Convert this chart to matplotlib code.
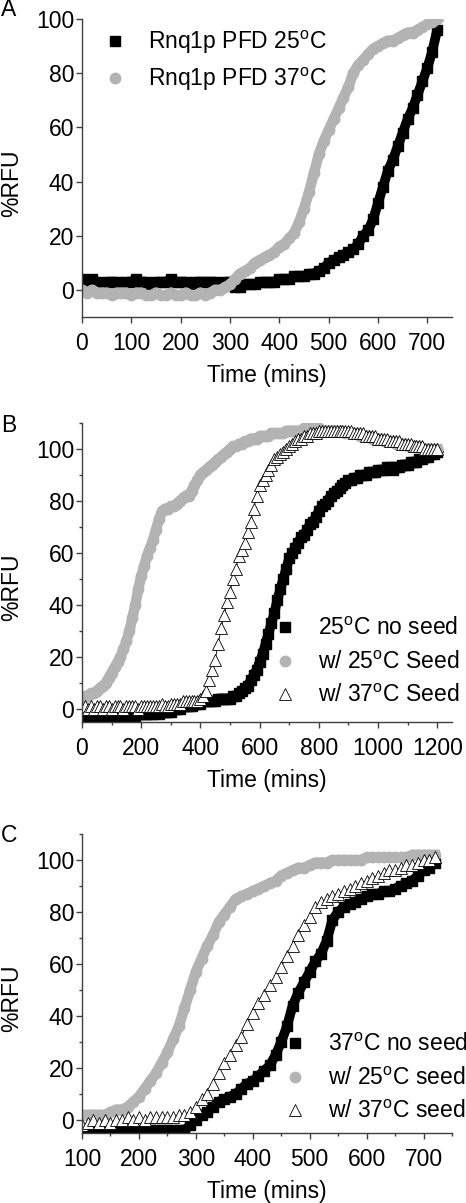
import numpy as np
import matplotlib
matplotlib.use("Agg")
import matplotlib.pyplot as plt
from matplotlib.ticker import MultipleLocator

plt.rcParams['font.family'] = ['Liberation Sans', 'DejaVu Sans']
plt.rcParams['mathtext.fontset'] = 'custom'
plt.rcParams['mathtext.rm'] = 'Liberation Sans'
plt.rcParams['font.size'] = 16.5

# ---- panel A: Rnq1p PFD at 25 and 37 C ----
time_a = np.arange(0, 730, 10)
a_25 = [4, 3, 4, 3, 2, 3, 3, 3, 2, 3, 3, 4, 3, 3, 2, 3, 3, 3, 4, 3, 3, 3, 2, 3, 3, 3, 3, 3, 2, 3, 3,
        1, 1, 2, 2, 2, 3, 3, 3, 3, 4,
        4, 4, 5, 5, 5, 6, 6, 7, 8, 10,
        11, 12, 13, 14, 15, 17, 20, 22, 26, 32,
        38, 44, 48, 53, 58, 63, 67, 72, 77, 82, 88, 96]
a_37 = [0, -1, 0, -1, -1, -1, -2, -1, -1, -1, -2, -1, -1, -2, -2, -1, -2, -2, -1, -2, -2, -1, -2, -2, -1, -2,
        -1, 0, 0, 1, 2,
        4, 6, 7, 8, 10, 11, 12, 13, 14, 16,
        17, 19, 21, 25, 30, 36, 43, 50, 55, 59,
        63, 67, 71, 75, 80, 83, 85, 87, 89, 90,
        91, 92, 92, 93, 94, 95, 95, 96, 97, 98, 99, 100]

# ---- panel B: 25 C, seeded ----
time_b = np.arange(0, 1210, 10)
b_noseed = [-4, -4, -3, -4, -4, -3, -3, -4, -3, -3, -3, -3, -3, -3, -2, -3, -3, -2, -3, -2, -2, -2, -2, -2,
            -2, -1, -2, -1, -1, -1, -1, 0, 0, 0, 1, 1,
            1, 1, 2, 2, 2, 3, 3, 3, 3, 3, 4, 4, 4, 4, 4,
            5, 5, 6, 7, 8, 9, 11, 13, 15, 18,
            21, 25, 29, 33, 37, 42, 46, 50, 54, 58,
            60, 62, 64, 66, 67, 69, 71, 72, 74, 76,
            78, 79, 80, 82, 83, 84, 85, 86, 87, 88,
            88, 89, 89, 90, 90, 90, 91, 91, 91, 92,
            92, 92, 93, 93, 92, 93, 93, 94, 94, 94,
            95, 95, 95, 96, 96, 97, 97, 98, 98, 99]
b_seed25 = [4, 5, 5, 6, 6, 7, 8, 9, 10, 12, 14,
            16, 18, 20, 23, 26, 30, 35, 40, 46, 51,
            55, 59, 62, 65, 69, 73, 76, 77, 77, 78,
            78, 79, 80, 81, 82, 82, 84, 86, 88, 90,
            91, 92, 93, 94, 95, 96, 97, 98, 99, 100,
            101, 101, 102, 102, 103, 103, 104, 104, 104, 105,
            105, 105, 105, 106, 106, 106, 106, 106, 107, 107,
            107, 107, 107, 107, 108, 108, 108, 108, 108, 108,
            107, 107, 107, 107, 107, 107, 107, 107, 106, 106,
            106, 106, 106, 105, 105, 105, 105, 104, 104, 104,
            104, 103, 103, 103, 103, 102, 102, 102, 102, 101,
            101, 101, 101, 101, 100, 100, 100, 100, 100, 100]
b_seed37 = [0, 1, 0, 1, 0, 1, 1, 0, 1, 1, 0, 1, 1, 1, 0, 1, 1, 1, 1, 0, 1, 1, 1, 1, 1, 1, 1, 2, 1, 1,
            2, 2, 2, 2, 3, 3,
            3, 3, 3, 3, 4, 5, 7, 11, 15, 19, 25, 31, 36, 41, 45,
            50, 54, 59, 61, 64, 68, 72, 77, 82, 86,
            88, 90, 92, 94, 96, 97, 98, 99, 100, 101,
            102, 103, 104, 104, 105, 105, 106, 106, 106, 107,
            107, 107, 107, 107, 107, 107, 107, 107, 107, 107,
            107, 106, 106, 106, 106, 105, 105, 105, 105, 104,
            104, 104, 104, 103, 103, 103, 103, 102, 102, 102,
            102, 101, 101, 101, 101, 100, 100, 100, 100, 100]

# ---- panel C: 37 C, seeded ----
time_c = np.arange(100, 730, 10)
c_noseed = [-4, -4, -4, -4, -4, -4, -3, -4, -4, -4, -4, -4, -4, -4, -4, -4,
            -4, -4, -4, -2, 0,
            2, 3, 5, 7, 8, 9, 10, 12, 14, 15,
            17, 19, 21, 25, 30, 36, 44, 49, 53, 57,
            61, 64, 69, 77, 80, 82, 83, 84, 85, 86,
            87, 87, 88, 88, 89, 90, 91, 92, 94, 96, 97, 99]
c_seed25 = [2, 2, 2, 2, 2, 3, 4, 4, 5, 7, 9,
            12, 15, 18, 22, 26, 31, 36, 43, 50, 57,
            62, 67, 71, 76, 79, 82, 85, 86, 87, 88,
            89, 90, 91, 92, 94, 95, 96, 97, 97, 98,
            99, 99, 99, 100, 100, 100, 100, 100, 100, 101,
            101, 101, 101, 101, 101, 101, 101, 102, 102, 102, 102, 102]
c_seed37 = [-2, -1, 0, -1, 0, -1, 0, 0, 1, 0, 1, 0, 1, 1, 1, 1,
            1, 2, 2, 3, 5,
            8, 10, 14, 18, 22, 25, 29, 32, 37, 41,
            45, 48, 52, 55, 59, 63, 67, 71, 75, 78,
            82, 84, 85, 86, 87, 88, 89, 90, 91, 92,
            93, 94, 95, 96, 96, 97, 98, 98, 99, 100, 100, 101]

GREY = '#b3b3b3'
SPINE = '#404040'
deg = r'$^{\rm o}$'

W, H = 466, 1203
fig = plt.figure(figsize=(W / 100, H / 100), dpi=100)


def px_axes(left, top, right, bottom):
    return fig.add_axes([left / W, 1 - bottom / H, (right - left) / W, (bottom - top) / H])


def style(ax, minor_x=None, minor_y=None):
    for s in ['top', 'right']:
        ax.spines[s].set_visible(False)
    for s in ['left', 'bottom']:
        ax.spines[s].set_color(SPINE)
        ax.spines[s].set_linewidth(1.0)
    ax.tick_params(which='major', direction='out', length=4, width=1, color=SPINE, pad=6.5)
    ax.tick_params(axis='y', which='major', pad=1.5)
    ax.tick_params(which='minor', direction='out', length=2.5, width=1, color=SPINE)
    if minor_x:
        ax.xaxis.set_minor_locator(MultipleLocator(minor_x))
    if minor_y:
        ax.yaxis.set_minor_locator(MultipleLocator(minor_y))
    ax.set_xlabel('Time (mins)', labelpad=7)
    ax.set_ylabel('%RFU')
    ax.yaxis.set_label_coords(-0.16, 0.45)


# points joined by a band of the same colour, so the dense runs read as one trace
sq = dict(marker='s', ms=7, color='black', ls='-', lw=7)
ci = dict(marker='o', ms=7.5, color=GREY, ls='-', lw=7.5)
tri = dict(marker='^', ms=8, mfc='white', mec='black', mew=0.6, color='black', ls='-', lw=0.6)


def add_legend(ax, anchor):
    leg = ax.legend(loc='upper left', bbox_to_anchor=anchor, frameon=False, borderpad=0,
                    borderaxespad=0, handlelength=1.0, handletextpad=0.94, labelspacing=0.45,
                    numpoints=1, fontsize=16.5)
    for h in leg.legend_handles:
        h.set_linestyle('none')


# A
axA = px_axes(82, 19, 452, 317)
axA.plot(time_a, a_25, label='Rnq1p PFD 25' + deg + 'C', **sq)
axA.plot(time_a, a_37, label='Rnq1p PFD 37' + deg + 'C', **ci)
axA.set_xlim(0, 750)
axA.set_ylim(-10, 100)
axA.xaxis.set_major_locator(MultipleLocator(100))
axA.yaxis.set_major_locator(MultipleLocator(20))
style(axA)
add_legend(axA, (0.058, 0.968))

# B
axB = px_axes(82, 423, 452, 722)
axB.plot(time_b, b_noseed, label='25' + deg + 'C no seed', **sq)
axB.plot(time_b, b_seed25, label='w/ 25' + deg + 'C Seed', **ci)
axB.plot(time_b, b_seed37, label='w/ 37' + deg + 'C Seed', **tri)
axB.set_xlim(0, 1250)
axB.set_ylim(-5, 110)
axB.xaxis.set_major_locator(MultipleLocator(200))
axB.yaxis.set_major_locator(MultipleLocator(20))
style(axB, 100, 10)
add_legend(axB, (0.5176, 0.35))

# C
axC = px_axes(82, 834, 452, 1133)
axC.plot(time_c, c_noseed, label='37' + deg + 'C no seed', **sq)
axC.plot(time_c, c_seed25, label='w/ 25' + deg + 'C seed', **ci)
axC.plot(time_c, c_seed37, label='w/ 37' + deg + 'C seed', **tri)
axC.set_xlim(100, 750)
axC.set_ylim(-5, 110)
axC.xaxis.set_major_locator(MultipleLocator(100))
axC.yaxis.set_major_locator(MultipleLocator(20))
style(axC, 50, 10)
add_legend(axC, (0.5446, 0.333))

for lab, yc in [('A', 10), ('B', 426), ('C', 835)]:
    fig.text(1 / W, 1 - yc / H, lab, ha='left', va='center', fontsize=16.5)

fig.savefig('out.png', dpi=100)
